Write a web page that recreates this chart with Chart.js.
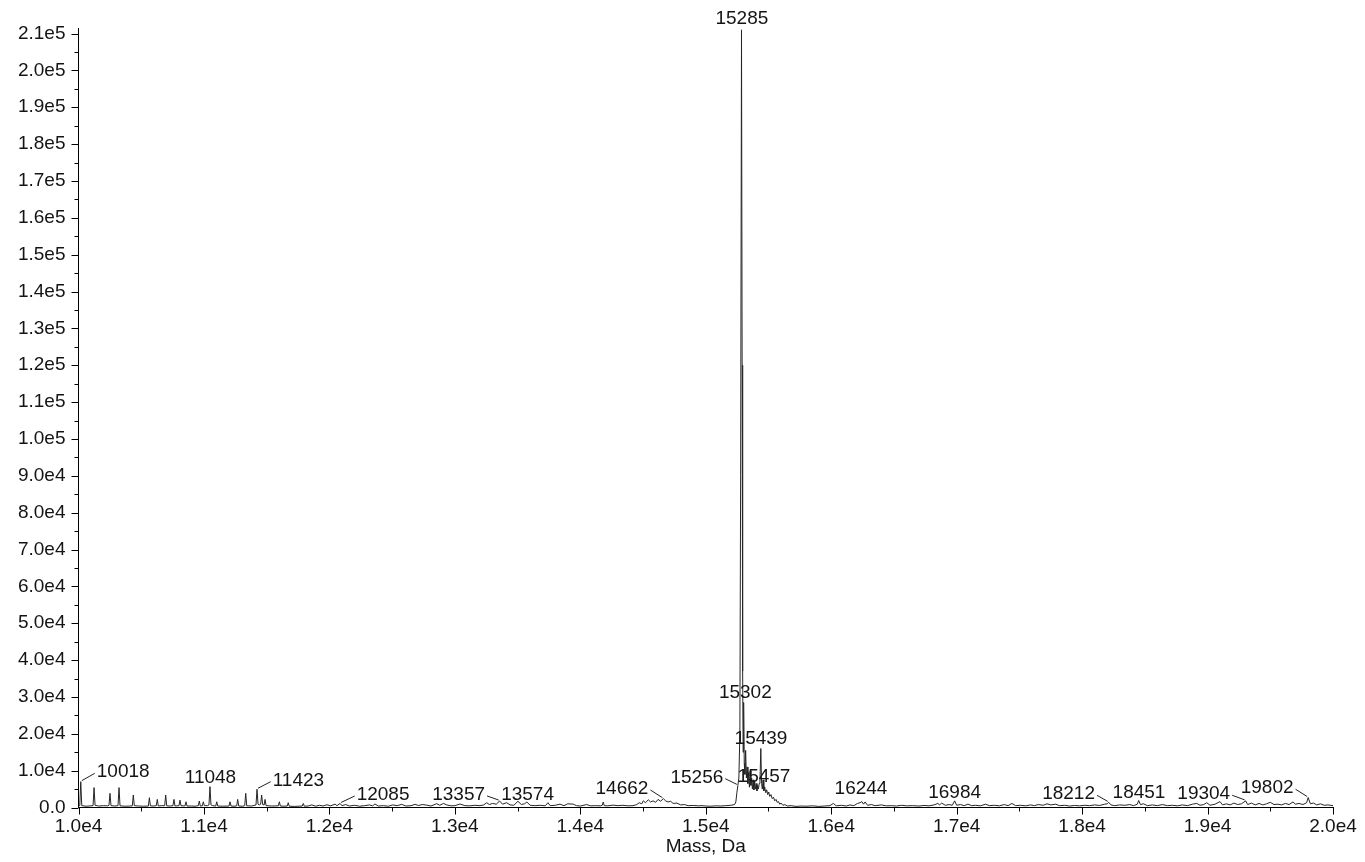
<!DOCTYPE html>
<html>
<head>
<meta charset="utf-8">
<title>Deconvoluted mass spectrum</title>
<script src="https://cdn.jsdelivr.net/npm/chart.js@4.4.1/dist/chart.umd.min.js"></script>
<style>
  html, body { margin: 0; padding: 0; background: #fff; }
  canvas { display: block; }
</style>
</head>
<body>
<canvas id="chart" width="1365" height="862"></canvas>
<script>
/* Deconvoluted spectrum, intensity vs mass (Da) */

// 10000 - 11800 Da: ladder of narrow peaks
const massA = [10000, 10010, 10018, 10026, 10060, 10100, 10116, 10124, 10132, 10160, 10200, 10230, 10243, 10251, 10259,
  10290, 10315, 10323, 10331, 10370, 10410, 10429, 10437, 10445, 10480, 10520, 10557, 10565, 10573, 10600, 10620, 10628,
  10636, 10660, 10687, 10695, 10703, 10730, 10753, 10761, 10769, 10801, 10809, 10817, 10849, 10857, 10865, 10900, 10930,
  10955, 10963, 10971, 10987, 10995, 11003, 11030, 11040, 11048, 11056, 11070, 11094, 11102, 11110, 11150, 11200, 11208,
  11216, 11240, 11261, 11269, 11277, 11310, 11325, 11333, 11341, 11380, 11415, 11423, 11431, 11445, 11452, 11460, 11468,
  11480, 11487, 11495, 11540, 11593, 11601, 11609, 11640, 11664, 11672, 11680, 11720, 11784, 11792, 11800];
const intA = [400, 500, 7000, 500, 350, 450, 500, 5400, 600, 400, 500, 450, 600, 3850, 500,
  400, 500, 5400, 450, 350, 400, 450, 3400, 500, 400, 350, 400, 2650, 450, 400, 500, 2200,
  400, 500, 500, 3400, 450, 400, 500, 2200, 400, 500, 2000, 450, 450, 1550, 400, 400, 350,
  500, 1750, 400, 450, 1550, 500, 500, 700, 5650, 700, 500, 400, 1550, 400, 350, 400, 1550,
  400, 350, 450, 2200, 400, 350, 500, 3850, 450, 400, 700, 4950, 900, 700, 900, 3400, 800,
  700, 2200, 500, 400, 450, 1550, 400, 350, 400, 1300, 350, 300, 400, 1100, 350];

// 11800 - 15000 Da: low noise and the 14.5k hump
const massB = [11830, 11860, 11890, 11920, 11950, 11980, 12010, 12045, 12060, 12085, 12100, 12130, 12160, 12200, 12240,
  12280, 12320, 12345, 12363, 12390, 12430, 12470, 12505, 12540, 12576, 12610, 12650, 12683, 12710, 12740, 12776, 12810,
  12855, 12880, 12910, 12935, 12970, 13000, 13041, 13080, 13120, 13160, 13200, 13230, 13254, 13275, 13300, 13330, 13357,
  13380, 13413, 13440, 13470, 13503, 13530, 13555, 13574, 13600, 13640, 13680, 13720, 13742, 13760, 13800, 13838, 13870,
  13900, 13944, 13970, 14000, 14051, 14080, 14120, 14160, 14175, 14183, 14191, 14220, 14260, 14300, 14340, 14380, 14420,
  14450, 14470, 14490, 14502, 14520, 14542, 14560, 14580, 14600, 14620, 14640, 14662, 14680, 14700, 14720, 14740, 14770,
  14800, 14830, 14860, 14900, 14940, 14970];
const intB = [400, 700, 350, 600, 400, 750, 450, 900, 500, 1100, 500, 800, 400, 600, 350,
  500, 700, 450, 950, 400, 500, 350, 700, 500, 850, 400, 500, 850, 550, 800, 650, 400,
  1050, 600, 1100, 700, 450, 500, 950, 500, 450, 600, 500, 700, 1300, 800, 1100, 900, 1750,
  900, 1300, 700, 600, 1700, 800, 1000, 1500, 600, 500, 600, 450, 1300, 500, 600, 900, 500,
  1000, 900, 500, 400, 800, 450, 500, 450, 600, 1500, 500, 450, 650, 500, 600, 450, 500,
  800, 1300, 1000, 1800, 1300, 2100, 1500, 1800, 1400, 2200, 1700, 2400, 1800, 1500, 1700, 1100, 1200,
  700, 800, 500, 550, 450, 500];

// 15000 - 15720 Da: main protein peak and adducts
const massC = [15000, 15040, 15080, 15120, 15160, 15200, 15230, 15240, 15248, 15256, 15264, 15272, 15278, 15285, 15290,
  15294, 15298, 15302, 15307, 15312, 15318, 15324, 15330, 15336, 15342, 15348, 15354, 15360, 15366, 15372, 15378, 15384,
  15390, 15396, 15402, 15408, 15414, 15420, 15426, 15432, 15439, 15445, 15451, 15457, 15463, 15470, 15478, 15486, 15494,
  15502, 15510, 15520, 15530, 15540, 15550, 15560, 15570, 15580, 15590, 15600, 15615, 15630, 15650, 15680, 15720];
const intC = [400, 350, 450, 400, 500, 600, 800, 1500, 4000, 6000, 8000, 20000, 90000, 211000, 120000,
  37000, 15000, 28500, 12000, 9000, 15500, 8000, 11000, 6500, 9500, 5500, 10000, 6000, 8000, 5000, 7500, 4800,
  7000, 5000, 6500, 4500, 6000, 5000, 6500, 7000, 16000, 6500, 5000, 7500, 4500, 5600, 4000, 4800, 3500,
  4200, 3000, 3500, 2400, 2800, 1800, 2200, 1400, 1600, 900, 1200, 600, 800, 400, 500, 300];

// 15720 - 20000 Da: high mass noise
const massD = [15760, 15800, 15850, 15900, 15950, 15990, 16017, 16040, 16080, 16120, 16150, 16180, 16210, 16230, 16244,
  16258, 16270, 16290, 16320, 16350, 16400, 16440, 16480, 16520, 16560, 16600, 16650, 16700, 16740, 16780, 16820, 16850,
  16865, 16880, 16910, 16940, 16965, 16984, 17000, 17030, 17060, 17090, 17120, 17150, 17190, 17230, 17260, 17300, 17340,
  17380, 17410, 17440, 17470, 17510, 17550, 17590, 17620, 17650, 17690, 17720, 17750, 17790, 17820, 17860, 17900, 17940,
  17980, 18020, 18060, 18100, 18140, 18180, 18200, 18212, 18230, 18260, 18300, 18340, 18380, 18410, 18440, 18451, 18465,
  18490, 18520, 18560, 18600, 18640, 18680, 18720, 18760, 18800, 18840, 18880, 18914, 18940, 18970, 18993, 19020, 19060,
  19099, 19120, 19150, 19180, 19210, 19240, 19270, 19304, 19320, 19350, 19380, 19410, 19440, 19470, 19500, 19530, 19560,
  19590, 19620, 19650, 19681, 19700, 19730, 19760, 19790, 19802, 19820, 19845, 19870, 19900, 19930, 19960, 20000];
const intD = [400, 350, 450, 300, 400, 500, 1100, 450, 600, 400, 700, 500, 1100, 1300, 1600,
  900, 1500, 600, 800, 500, 700, 450, 500, 400, 600, 450, 500, 400, 550, 450, 700, 1100,
  700, 1200, 600, 800, 600, 1800, 600, 800, 500, 900, 500, 600, 450, 900, 500, 600, 450,
  800, 500, 1100, 500, 600, 450, 700, 500, 800, 600, 1000, 700, 900, 500, 600, 400, 550,
  450, 600, 500, 700, 550, 900, 1000, 1400, 700, 500, 700, 600, 800, 500, 900, 1900, 800,
  1000, 500, 700, 500, 800, 500, 600, 450, 700, 500, 900, 1100, 600, 800, 1300, 600, 900,
  1600, 700, 1000, 700, 1200, 800, 1000, 1800, 800, 1200, 700, 1100, 700, 1000, 1400, 800, 900,
  700, 1100, 800, 1500, 900, 1100, 800, 1300, 2700, 1000, 1200, 700, 1000, 600, 700, 500];

// axis ticks and their labels
const xTicks = [10000, 11000, 12000, 13000, 14000, 15000, 16000, 17000, 18000, 19000, 20000];
const xTickLabels = ['1.0e4', '1.1e4', '1.2e4', '1.3e4', '1.4e4', '1.5e4', '1.6e4', '1.7e4', '1.8e4', '1.9e4', '2.0e4'];
const yTicks = [0, 10000, 20000, 30000, 40000, 50000, 60000, 70000, 80000, 90000, 100000, 110000, 120000, 130000,
  140000, 150000, 160000, 170000, 180000, 190000, 200000, 210000];
const yTickLabels = ['0.0', '1.0e4', '2.0e4', '3.0e4', '4.0e4', '5.0e4', '6.0e4', '7.0e4', '8.0e4', '9.0e4', '1.0e5',
  '1.1e5', '1.2e5', '1.3e5', '1.4e5', '1.5e5', '1.6e5', '1.7e5', '1.8e5', '1.9e5', '2.0e5', '2.1e5'];

// annotated peaks (mass in Da)
const peakLabels = [10018, 11048, 11423, 12085, 13357, 13574, 14662, 15256, 15285, 15302, 15439, 15457, 16244, 16984,
  18212, 18451, 19304, 19802];

// text placement relative to the peak top, in pixels: [dx, dy, align]
const labelOffsets = [
  [16, -4.4, 'left'], [0.5, -4, 'center'], [15.7, -3.6, 'left'], [16.6, -3.4, 'left'],
  [-14.6, -1.1, 'right'], [0.7, -2, 'center'], [-15, -4.7, 'right'], [-14.6, -2.7, 'right'],
  [0.4, -6, 'center'], [1.7, -4.2, 'center'], [0.2, -4.2, 'center'], [0.9, 2.4, 'center'],
  [-0.8, -7.3, 'center'], [0, -3, 'center'], [-13.7, -3, 'right'], [0.3, -2.8, 'center'],
  [-15.5, -1.6, 'right'], [-14.6, -4.3, 'right'],
];

const FONT = { family: '"Liberation Sans", Arial, sans-serif', size: 19 };
const TEXT_COLOR = '#141414';

const masses = massA.concat(massB, massC, massD);
const intensities = intA.concat(intB, intC, intD);
const points = masses.map((m, i) => ({ x: m, y: intensities[i] }));

function withMinor(major, step, max) {
  const out = [];
  major.forEach(v => {
    out.push({ value: v });
    if (v + step <= max) out.push({ value: v + step });
  });
  return out;
}

// tick marks: long for labelled ticks, short for the half steps
const tickMarks = {
  id: 'tickMarks',
  afterDraw(chart) {
    const { ctx, chartArea } = chart;
    const xs = chart.scales.x;
    const ys = chart.scales.y;
    ctx.save();
    ctx.strokeStyle = '#000';
    ctx.lineWidth = 1;
    ctx.beginPath();
    xs.ticks.forEach(t => {
      const len = xTicks.includes(t.value) ? 7 : 4;
      const px = Math.round(xs.getPixelForValue(t.value)) + 0.5;
      ctx.moveTo(px, chartArea.bottom);
      ctx.lineTo(px, chartArea.bottom + len);
    });
    ys.ticks.forEach(t => {
      const len = yTicks.includes(t.value) ? 7 : 4;
      const py = Math.round(ys.getPixelForValue(t.value)) + 0.5;
      ctx.moveTo(chartArea.left, py);
      ctx.lineTo(chartArea.left - len, py);
    });
    ctx.stroke();
    ctx.restore();
  },
};

// peak mass labels with leader lines
const peakAnnotations = {
  id: 'peakAnnotations',
  afterDatasetsDraw(chart) {
    const { ctx } = chart;
    const xs = chart.scales.x;
    const ys = chart.scales.y;
    ctx.save();
    ctx.font = `${FONT.size}px ${FONT.family}`;
    ctx.fillStyle = TEXT_COLOR;
    ctx.strokeStyle = '#222';
    ctx.lineWidth = 1;
    ctx.textBaseline = 'alphabetic';
    peakLabels.forEach((mass, i) => {
      const idx = masses.indexOf(mass);
      if (idx < 0) return;
      const [dx, dy, align] = labelOffsets[i];
      const px = xs.getPixelForValue(mass);
      const py = ys.getPixelForValue(intensities[idx]);
      const tx = px + dx;
      const ty = py + dy;
      ctx.textAlign = align;
      ctx.fillText(String(mass), tx, ty);
      if (align !== 'center') {
        const side = align === 'left' ? 1 : -1;
        ctx.beginPath();
        ctx.moveTo(px + side, py - 1);
        ctx.lineTo(tx - side * 2, ty - 4);
        ctx.stroke();
      }
    });
    ctx.restore();
  },
};

const chart = new Chart(document.getElementById('chart').getContext('2d'), {
  type: 'line',
  data: {
    datasets: [{
      label: 'Intensity',
      data: points,
      borderColor: '#262626',
      borderWidth: 1,
      pointRadius: 0,
      tension: 0,
      fill: false,
    }],
  },
  options: {
    responsive: false,
    animation: false,
    parsing: false,
    layout: { padding: { top: 28, right: 32, left: 0, bottom: 0 } },
    plugins: {
      legend: { display: false },
      tooltip: { enabled: false },
    },
    scales: {
      x: {
        type: 'linear',
        min: 10000,
        max: 20000,
        afterBuildTicks: s => { s.ticks = withMinor(xTicks, 500, 20000); },
        afterFit: s => { s.height = 54.5; },
        ticks: {
          autoSkip: false,
          maxRotation: 0,
          padding: 1,
          font: FONT,
          color: TEXT_COLOR,
          callback: v => {
            const i = xTicks.indexOf(v);
            return i >= 0 ? xTickLabels[i] : '';
          },
        },
        grid: { display: true, drawOnChartArea: false, drawTicks: true, tickLength: 7, color: 'rgba(0,0,0,0)' },
        border: { display: true, color: '#000', width: 1 },
        title: { display: true, text: 'Mass, Da', font: FONT, color: TEXT_COLOR, padding: { top: 0, bottom: 4 } },
      },
      y: {
        type: 'linear',
        min: 0,
        max: 211500,
        afterBuildTicks: s => { s.ticks = withMinor(yTicks, 5000, 211500); },
        afterFit: s => { s.width = 78.5; },
        ticks: {
          autoSkip: false,
          padding: 6,
          font: FONT,
          color: TEXT_COLOR,
          callback: v => {
            const i = yTicks.indexOf(v);
            return i >= 0 ? yTickLabels[i] : '';
          },
        },
        grid: { display: true, drawOnChartArea: false, drawTicks: true, tickLength: 7, color: 'rgba(0,0,0,0)' },
        border: { display: true, color: '#000', width: 1 },
      },
    },
  },
  plugins: [tickMarks, peakAnnotations],
});
</script>
</body>
</html>
